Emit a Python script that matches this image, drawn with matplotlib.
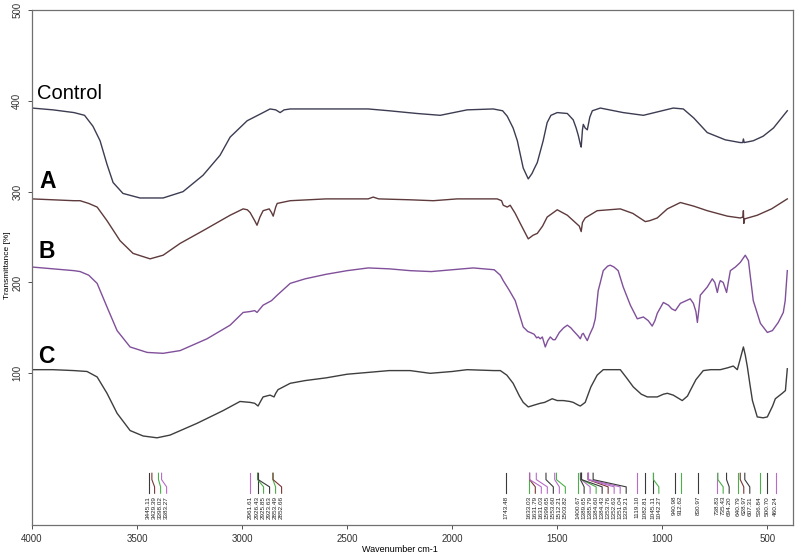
import matplotlib
matplotlib.use('Agg')
import matplotlib.pyplot as plt
import numpy as np

plt.rcParams['font.family'] = ['Liberation Sans', 'DejaVu Sans']

# ---- spectra (wavenumber, transmittance with offsets as drawn) ----
ctrl_wn = [4000, 3900, 3800, 3750, 3710, 3676, 3643, 3614, 3567, 3486, 3376, 3281, 3186, 3105, 3057,
           2976, 2900, 2867, 2840, 2819, 2800, 2771, 2600, 2400, 2300, 2167, 2057, 1929, 1805, 1760,
           1738, 1710, 1690, 1662, 1638, 1620, 1610, 1595, 1567, 1548, 1530, 1500, 1452, 1424, 1410,
           1400, 1390, 1386, 1380, 1376, 1367, 1357, 1345, 1333, 1295, 1186, 1090, 948, 900, 850,
           786, 700, 629, 617, 614, 610, 567, 520, 471, 405]
ctrl_val = [392, 390, 387, 384, 372, 356, 330, 310, 298, 293, 293, 300, 318, 340, 360,
            378, 387, 391, 390, 387, 390, 391, 391, 391, 389, 386, 384, 390, 391, 389,
            383, 370, 356, 326, 314, 320, 325, 332, 356, 376, 384, 387, 386, 379, 370,
            362, 352, 349, 368, 374, 370, 368, 382, 389, 392, 387, 384, 392, 391, 381,
            365, 357, 354, 354, 358, 354, 356, 361, 370, 389]

a_wn = [4000, 3900, 3800, 3771, 3730, 3690, 3643, 3581, 3519, 3438, 3376, 3295, 3186, 3057, 2995,
        2975, 2962, 2940, 2929, 2915, 2900, 2871, 2860, 2852, 2840, 2833, 2771, 2600, 2400, 2376,
        2350, 2200, 2090, 1976, 1786, 1765, 1757, 1738, 1724, 1700, 1676, 1638, 1615, 1595, 1570,
        1548, 1500, 1452, 1414, 1395, 1386, 1380, 1367, 1310, 1200, 1140, 1081, 1060, 1024, 976,
        914, 850, 786, 690, 629, 616, 614, 612, 608, 548, 480, 405]
a_val = [292, 291, 290, 290, 287, 283, 268, 246, 232, 226, 230, 243, 257, 274, 281,
         280, 277, 268, 263, 272, 279, 281, 277, 273, 283, 287, 290, 292, 292, 294,
         292, 291, 290, 292, 292, 290, 285, 283, 285, 276, 265, 248, 252, 254, 262,
         272, 280, 274, 266, 262, 256, 266, 271, 279, 281, 276, 267, 268, 271, 281,
         288, 284, 279, 273, 271, 272, 279, 265, 270, 274, 281, 292]

b_wn = [4000, 3900, 3800, 3771, 3730, 3690, 3643, 3595, 3533, 3452, 3376, 3295, 3167, 3057, 2995,
        2962, 2940, 2929, 2900, 2860, 2833, 2771, 2700, 2600, 2500, 2400, 2300, 2200, 2100, 2000,
        1900, 1800, 1771, 1757, 1730, 1700, 1662, 1640, 1629, 1610, 1598, 1590, 1581, 1571, 1557,
        1545, 1533, 1520, 1510, 1490, 1470, 1452, 1435, 1424, 1400, 1390, 1382, 1376, 1367, 1357,
        1345, 1329, 1319, 1305, 1295, 1281, 1260, 1248, 1230, 1210, 1186, 1152, 1119, 1090, 1067,
        1048, 1035, 1024, 995, 971, 955, 938, 914, 867, 852, 840, 833, 826, 819, 786,
        762, 750, 738, 730, 724, 710, 694, 686, 676, 652, 629, 614, 605, 590, 567,
        533, 500, 476, 448, 424, 415, 405]
b_val = [217, 215, 213, 212, 208, 199, 173, 147, 129, 123, 122, 125, 138, 153, 167,
         168, 169, 167, 175, 180, 186, 199, 204, 209, 213, 216, 215, 213, 212, 214,
         216, 214, 208, 202, 192, 180, 151, 146, 145, 143, 139, 140, 138, 140, 129,
         136, 140, 137, 137, 145, 150, 153, 150, 147, 141, 138, 143, 144, 140, 136,
         143, 151, 160, 191, 200, 213, 218, 219, 217, 213, 195, 175, 160, 162, 158,
         152, 158, 166, 178, 175, 171, 169, 177, 182, 177, 168, 156, 170, 186, 195,
         204, 200, 189, 198, 202, 200, 189, 200, 213, 217, 222, 227, 230, 224, 180,
         155, 145, 147, 156, 167, 180, 213]

c_wn = [4000, 3900, 3800, 3738, 3690, 3643, 3595, 3533, 3471, 3405, 3343, 3214, 3090, 3010, 2962,
        2940, 2924, 2910, 2900, 2867, 2848, 2840, 2829, 2771, 2700, 2600, 2500, 2400, 2300, 2200,
        2105, 2000, 1929, 1800, 1771, 1740, 1710, 1680, 1662, 1638, 1610, 1581, 1560, 1524, 1500,
        1471, 1440, 1424, 1400, 1390, 1367, 1340, 1310, 1281, 1200, 1170, 1138, 1100, 1071, 1024,
        995, 976, 948, 905, 880, 867, 840, 805, 770, 724, 690, 662, 643, 630, 614,
        605, 595, 583, 571, 548, 520, 500, 475, 462, 429, 414, 405]
c_val = [104, 104, 103, 102, 96, 78, 56, 37, 31, 29, 32, 45, 59, 69, 68,
         67, 64, 70, 74, 76, 74, 78, 82, 89, 92, 95, 99, 101, 103, 103,
         100, 102, 104, 103, 103, 98, 89, 75, 68, 63, 65, 67, 68, 72, 70,
         70, 69, 68, 65, 64, 68, 85, 98, 104, 104, 95, 85, 77, 74, 74,
         77, 78, 76, 70, 75, 81, 93, 103, 104, 104, 106, 108, 104, 115, 129,
         120, 107, 88, 70, 52, 51, 52, 64, 72, 78, 81, 105]

# ---- picked peaks ----
peaks = [3445.11, 3429.39, 3398.02, 3383.27, 2961.61, 2926.43, 2925.85, 2923.63, 2853.49, 2852.66,
         1743.48, 1633.03, 1631.79, 1631.03, 1599.65, 1553.60, 1512.21, 1503.82, 1400.67, 1389.65,
         1385.79, 1384.60, 1384.43, 1353.76, 1352.63, 1351.04, 1329.21, 1119.10, 1082.81, 1045.11,
         1042.27, 940.98, 912.62, 830.97, 738.83, 735.43, 694.20, 640.79, 628.97, 607.31,
         536.84, 500.70, 460.24]
peak_cols = ['k', 'r', 'g', 'p', 'p', 'k', 'g', 'k', 'g', 'r',
             'k', 'g', 'r', 'p', 'p', 'k', 'p', 'g', 'g', 'k',
             'p', 'g', 'k', 'r', 'p', 'p', 'k', 'p', 'k', 'k',
             'g', 'k', 'g', 'k', 'p', 'g', 'k', 'g', 'r', 'k',
             'g', 'k', 'p']
cmap = {'k': '#3a3a3a', 'r': '#7a3535', 'g': '#4daf4a', 'p': '#b86cc8'}

fig = plt.figure(figsize=(7.96, 5.58), dpi=100)
ax = fig.add_axes([0.0402, 0.0591, 0.9560, 0.9231])

ax.plot(ctrl_wn, ctrl_val, color='#3c3c52', lw=1.0)
ax.plot(a_wn, a_val, color='#5e3a3c', lw=1.0)
ax.plot(b_wn, b_val, color='#80509a', lw=1.0)
ax.plot(c_wn, c_val, color='#3e3e3e', lw=1.0)

ax.text(3976, 408, 'Control', fontsize=14.5, va='center', ha='left')
ax.text(3965, 311, 'A', fontsize=16.5, fontweight='bold', va='center', ha='left')
ax.text(3971, 234, 'B', fontsize=16.5, fontweight='bold', va='center', ha='left')
ax.text(3971, 119, 'C', fontsize=16.5, fontweight='bold', va='center', ha='left')

# peak marker lines, labels spread apart where crowded
gap = 28.6
y_top, y1, y2, y_bot = -10, -17, -25, -32
prev = None
for wn, c in zip(peaks, peak_cols):
    lab = wn if prev is None else min(wn, prev - gap)
    prev = lab
    col = cmap[c]
    if abs(lab - wn) < 0.5:
        ax.plot([wn, wn], [y_top, y_bot], color=col, lw=0.8)
    else:
        ax.plot([wn, wn, lab, lab], [y_top, y1, y2, y_bot], color=col, lw=0.8)
    ax.text(lab, y_bot - 3, '%.2f' % wn, rotation=90, fontsize=4.6,
            ha='center', va='top', color='#222222')

ax.set_xlim(4000, 378)
ax.set_ylim(-67, 500)
ax.set_xticks([4000, 3500, 3000, 2500, 2000, 1500, 1000, 500])
ax.set_yticks([100, 200, 300, 400, 500])
ax.tick_params(axis='both', labelsize=7, length=3, width=0.6, colors='#333333')
ax.tick_params(axis='y', pad=4)
for lbl in ax.get_yticklabels():
    lbl.set_rotation(90)
    lbl.set_va('center')
for s in ax.spines.values():
    s.set_color('#707070')
    s.set_linewidth(0.9)

fig.text(400 / 796, 1 - 550 / 558, 'Wavenumber cm-1', fontsize=6.5, ha='center', va='center')
fig.text(8 / 796, 1 - 265 / 558, 'Transmittance [%]', fontsize=6, rotation=90,
         ha='center', va='center')

fig.savefig('out.png', dpi=100)
